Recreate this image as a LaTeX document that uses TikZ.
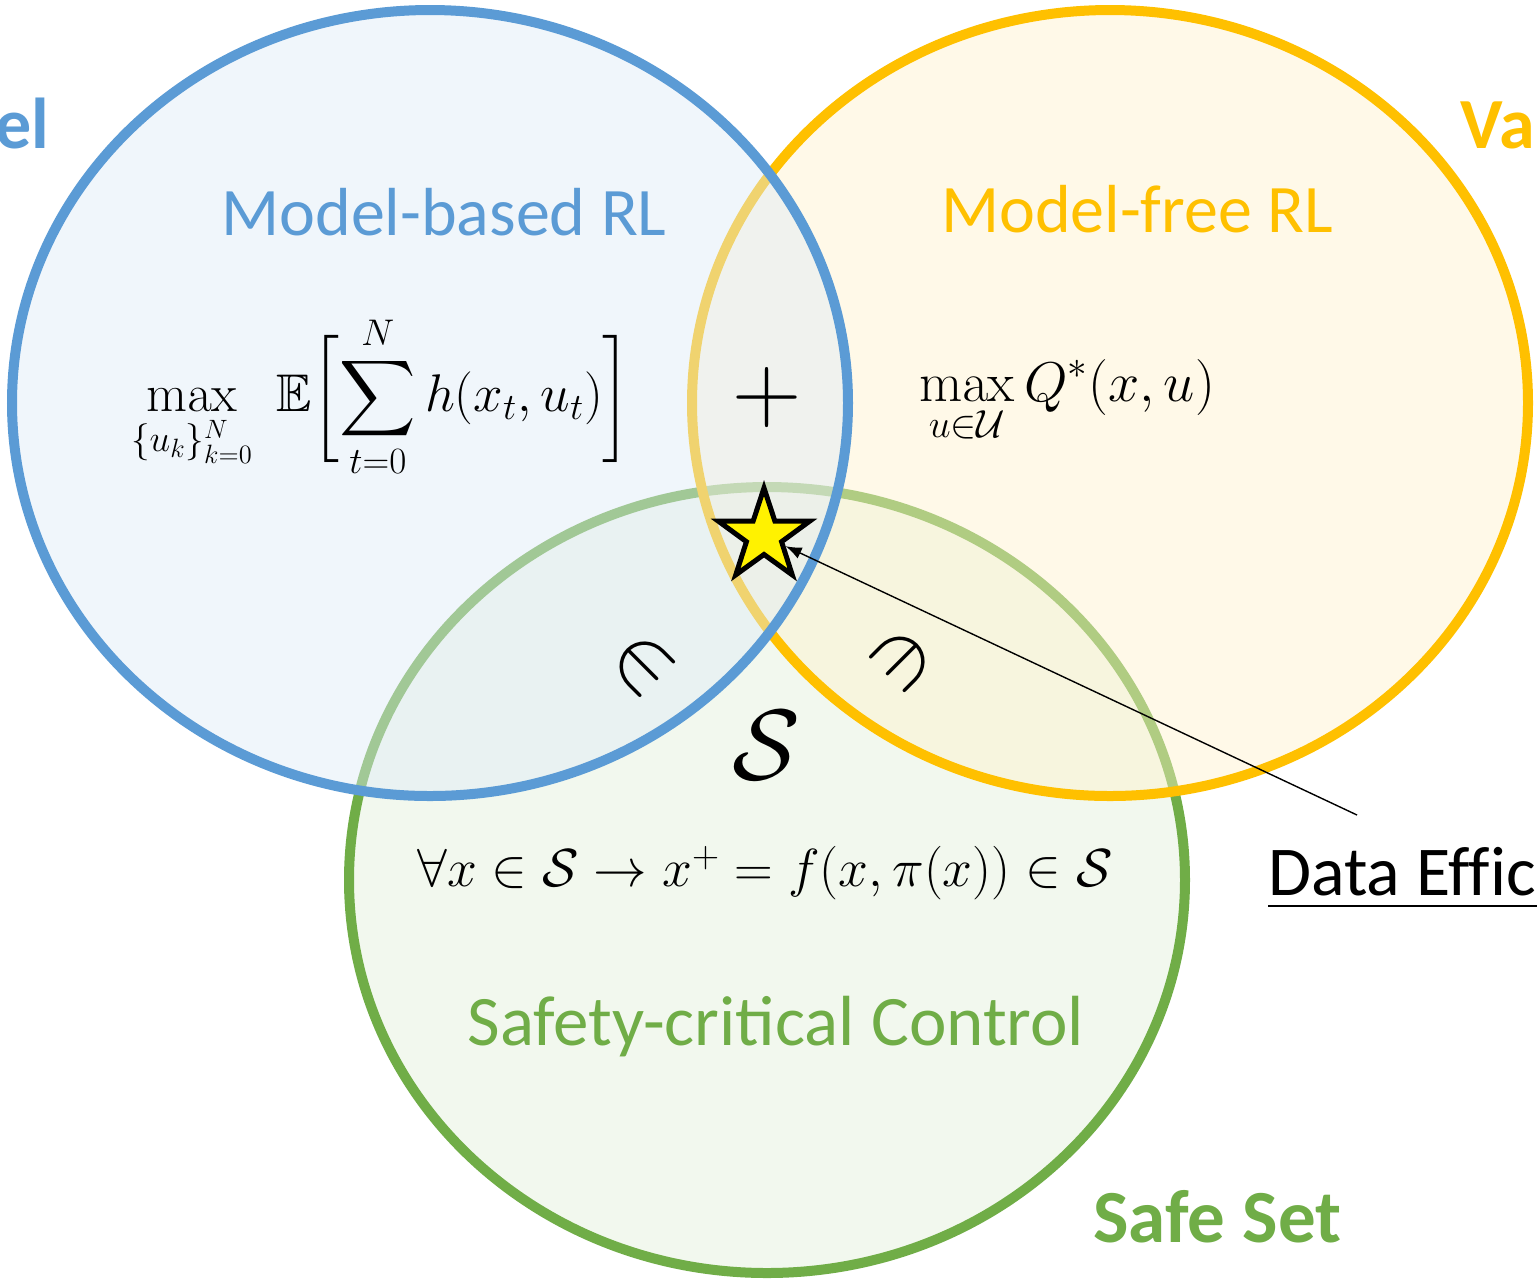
\RequirePackage{fix-cm}
\documentclass[tikz,border=0pt]{standalone}
\usepackage{amsmath,amssymb}
\usepackage[no-math]{fontspec}
\setmainfont{Carlito}
\usetikzlibrary{shapes.geometric,arrows.meta}
\definecolor{mbblue}{HTML}{5B9BD5}
\definecolor{mforange}{HTML}{FFC000}
\definecolor{scgreen}{HTML}{70AD47}
\definecolor{mbfill}{HTML}{DEEBF7}
\definecolor{mffill}{HTML}{FFF2CC}
\definecolor{scfill}{HTML}{E2F0D9}
\begin{document}
\begin{tikzpicture}[x=0.5pt,y=-0.5pt,
  venn/.style={line width=5pt, fill opacity=0.45},
  title/.style={font=\fontsize{34}{40}\selectfont, anchor=base, inner sep=0pt},
  head/.style={font=\fontsize{36}{42}\selectfont\bfseries, inner sep=0pt},
  eq/.style={font=\fontsize{26.5}{30}\selectfont, inner sep=0pt},
  elem/.style={font=\fontsize{44}{48}\selectfont, inner sep=0pt}]
\useasboundingbox (0,0) rectangle (1537,1282);
\def\rx{418};
\def\ry{393};
\coordinate (SC) at (767,880);
\coordinate (MF) at (1110,403);
\coordinate (MB) at (430,403);
% the three sets, green at the back
\draw[venn, draw=scgreen, fill=scfill] (SC) ellipse [x radius=\rx, y radius=\ry];
\draw[venn, draw=mforange, fill=mffill] (MF) ellipse [x radius=\rx, y radius=\ry];
\draw[venn, draw=mbblue, fill=mbfill] (MB) ellipse [x radius=\rx, y radius=\ry];
% headings
\node[head, text=mbblue, anchor=base east] (model) at (50,148) {Model};
\node[head, text=mforange, anchor=base west] (value) at (1460,148) {Value};
\node[head, text=scgreen, anchor=base west, font=\fontsize{37.5}{42}\selectfont\bfseries] (safeset) at (1093,1242) {Safe Set};
\node[title, text=mbblue] (mbrl) at (444,235) {Model-based RL};
\node[title, text=mforange] (mfrl) at (1137,232) {Model-free RL};
\node[title, text=scgreen, font=\fontsize{35.5}{40}\selectfont] (scc) at (776,1045) {Safety-critical Control};
% objectives
\node[eq] (mbeq) at (381,397) {$\displaystyle \max_{\{u_k\}_{k=0}^N}\;\mathbb{E}\biggl[\sum_{t=0}^{N} h(x_t,u_t)\biggr]$};
\node[eq, font=\fontsize{28}{32}\selectfont] (mfeq) at (1067,402) {$\displaystyle \max_{u\in\mathcal{U}} Q^*(x,u)$};
\node[eq, font=\fontsize{26.8}{30}\selectfont] (sceq) at (765,873) {$\forall x\in\mathcal{S}\rightarrow x^+ = f(x,\pi(x))\in\mathcal{S}$};
\node[font=\fontsize{48}{52}\selectfont, inner sep=0pt] (plus) at (767,397) {$+$};
\node[font=\fontsize{50}{54}\selectfont, inner sep=0pt] (set) at (767,745) {$\mathcal{S}$};
\node[elem, rotate=-45] (inl) at (643,665) {$\in$};
\node[elem, rotate=-135] (inr) at (902,660) {$\in$};
% data efficiency pointer
\node[star, star points=5, star point ratio=2.6, minimum size=48pt, inner sep=0pt,
  draw=black, line width=2.5pt, fill=yellow] (star) at (764,536) {};
\node[title, font=\fontsize{35}{40}\selectfont\addfontfeatures{Ligatures=NoCommon}, anchor=base west] (data) at (1268,895) {Data Efficiency};
\draw[line width=0.9pt] ([yshift=-5.5pt]data.base west) -- ([yshift=-5.5pt]data.base east);
\coordinate (tail) at (1357,815);
\draw[line width=0.7pt, -{Latex[length=8pt,width=6pt]}] (tail) -- (star);
\end{tikzpicture}
\end{document}
